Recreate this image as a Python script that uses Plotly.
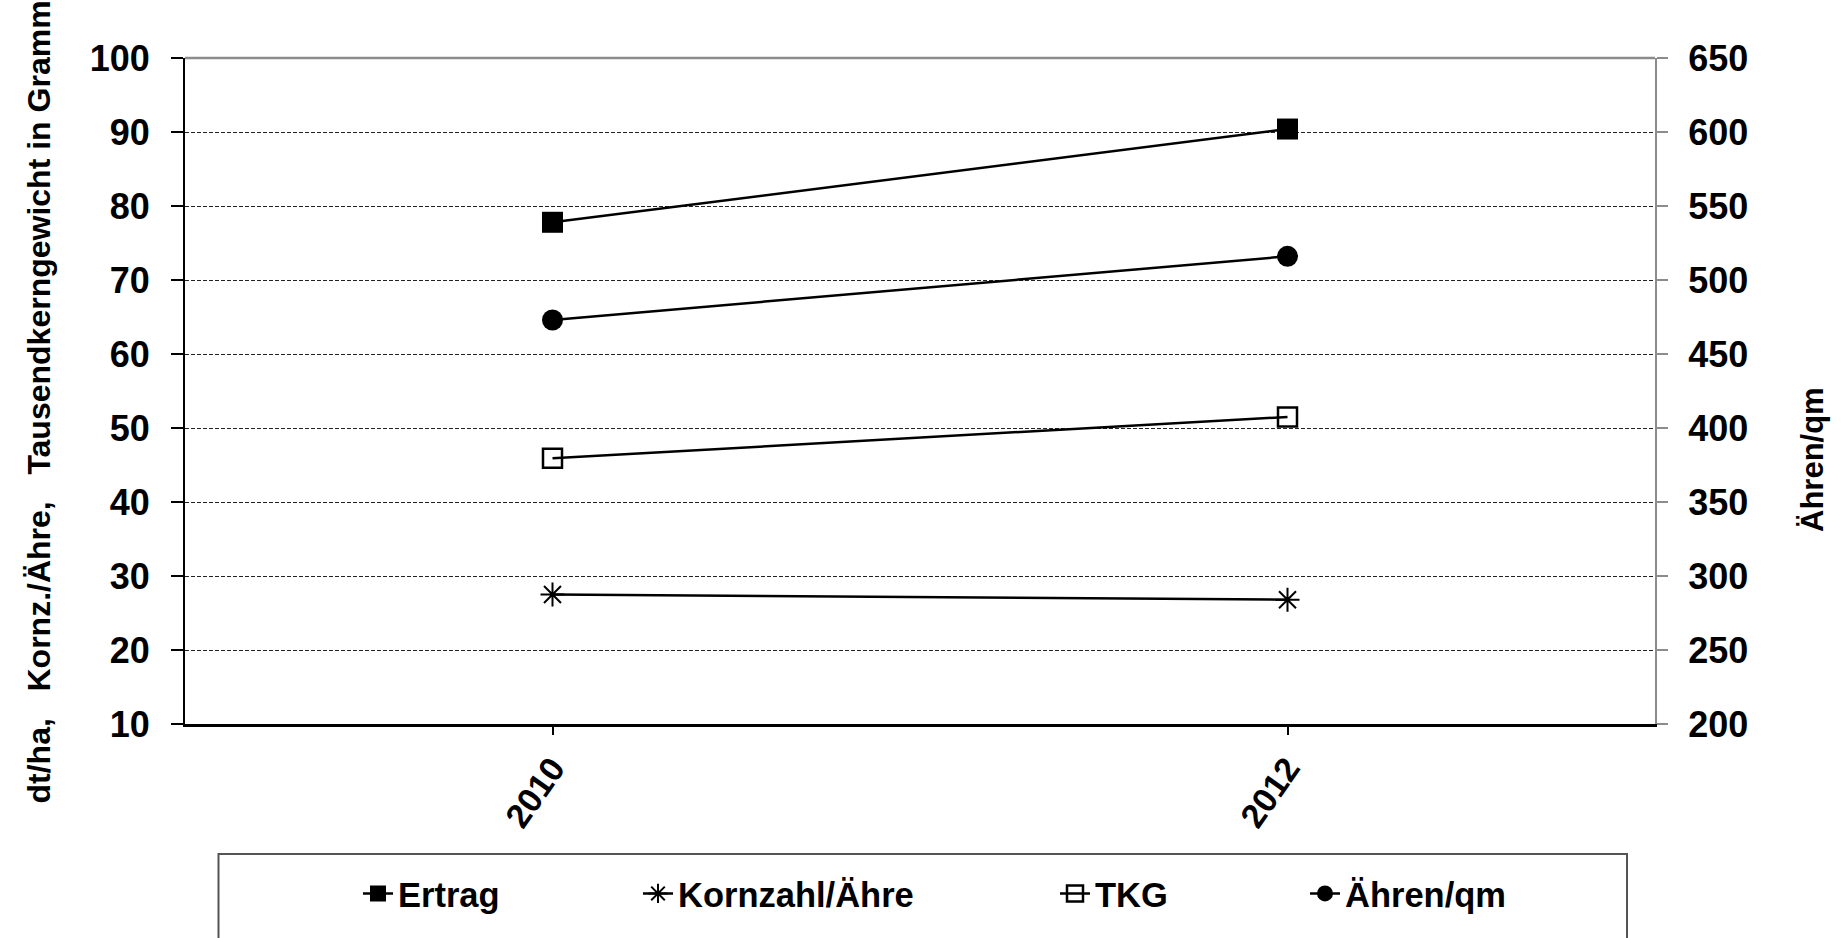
import plotly.graph_objects as go

# ---- data ----
years = ["2010", "2012"]
ertrag = [77.8, 90.4]          # dt/ha (left axis)
kornzahl = [27.5, 26.8]        # Kornzahl/Ähre (left axis)
tkg = [45.9, 51.5]             # TKG in g (left axis)
aehren = [473, 516]            # Ähren/qm (right axis)

left_ticks = [10, 20, 30, 40, 50, 60, 70, 80, 90, 100]
right_ticks = [200, 250, 300, 350, 400, 450, 500, 550, 600, 650]

left_title = "dt/ha,\u00a0\u00a0\u00a0Kornz./Ähre,\u00a0\u00a0\u00a0Tausendkerngewicht in Gramm"
right_title = "Ähren/qm"

FONT = "Liberation Sans, Arial, sans-serif"
W, H = 1842, 938
L, R, T, B = 185, 187, 58, 214
PW, PH = W - L - R, H - T - B


def px_x(x):
    return (x - L) / PW


def px_y(y):
    return (H - B - y) / PH


fig = go.Figure()

fig.add_trace(go.Scatter(
    x=years, y=ertrag, name="Ertrag", mode="lines+markers",
    line=dict(color="black", width=2.5),
    marker=dict(symbol="square", size=21, color="black", line=dict(width=0)),
    legend="legend"))
fig.add_trace(go.Scatter(
    x=years, y=kornzahl, name="Kornzahl/Ähre", mode="lines+markers",
    line=dict(color="black", width=2.5),
    marker=dict(symbol="asterisk-open", size=20, color="black", line=dict(width=2, color="black")),
    legend="legend2"))
fig.add_trace(go.Scatter(
    x=years, y=tkg, name="TKG", mode="lines+markers",
    line=dict(color="black", width=2.5),
    marker=dict(symbol="square-open", size=19, color="black", line=dict(width=2.5, color="black")),
    legend="legend3"))
fig.add_trace(go.Scatter(
    x=years, y=aehren, name="Ähren/qm", mode="lines+markers", yaxis="y2",
    line=dict(color="black", width=2.5),
    marker=dict(symbol="circle", size=21, color="black", line=dict(width=0)),
    legend="legend4"))

tick_font = dict(family=FONT, size=36, color="black", weight="bold")
xtick_font = dict(family=FONT, size=34, color="black", weight="bold")
leg_font = dict(family=FONT, size=34.5, color="black", weight="bold")
title_font = dict(family=FONT, size=32, color="black", weight="bold")

legend_common = dict(orientation="h", xanchor="left", yanchor="middle",
                     y=px_y(893.5), bgcolor="rgba(0,0,0,0)", borderwidth=0,
                     font=leg_font)

fig.update_layout(
    width=W, height=H,
    margin=dict(l=L, r=R, t=T, b=B, autoexpand=False),
    paper_bgcolor="white", plot_bgcolor="white",
    showlegend=True,
    xaxis=dict(
        type="category", range=[-0.5, 1.5],
        showline=True, linecolor="black", linewidth=2.5,
        ticks="outside", ticklen=8, tickcolor="black", tickwidth=1.5,
        tickangle=-55, tickfont=xtick_font, ticklabelstandoff=0,
        showgrid=False, zeroline=False, automargin=False),
    yaxis=dict(
        range=[10, 100], tickvals=left_ticks,
        showline=True, linecolor="black", linewidth=2,
        ticks="outside", ticklen=12, tickcolor="black", tickwidth=1.5,
        tickfont=tick_font, ticklabelstandoff=14,
        showgrid=True, gridcolor="#222222", gridwidth=1.3, griddash="4px,2px",
        zeroline=False, automargin=False),
    yaxis2=dict(
        range=[200, 650], tickvals=right_ticks, overlaying="y", side="right",
        showline=True, linecolor="#8c8c8c", linewidth=2,
        ticks="outside", ticklen=11, tickcolor="#8c8c8c", tickwidth=1.5,
        tickfont=tick_font, ticklabelstandoff=13,
        showgrid=False, zeroline=False, automargin=False),
    legend=dict(x=px_x(358), **legend_common),
    legend2=dict(x=px_x(638), **legend_common),
    legend3=dict(x=px_x(1055), **legend_common),
    legend4=dict(x=px_x(1305), **legend_common),
    annotations=[
        dict(text=left_title, xref="paper", yref="paper",
             x=px_x(38), y=px_y(806), xanchor="center", yanchor="bottom",
             textangle=-90, showarrow=False, font=title_font),
        dict(text=right_title, xref="paper", yref="paper",
             x=px_x(1812), y=px_y(460), xanchor="center", yanchor="middle",
             textangle=-90, showarrow=False,
             font=dict(family=FONT, size=31, color="black", weight="bold")),
    ],
    shapes=[
        # top border of the plot area
        dict(type="line", xref="paper", yref="paper", x0=0, x1=1, y0=1, y1=1,
             line=dict(color="#8c8c8c", width=2.5)),
        # legend frame
        dict(type="rect", xref="paper", yref="paper",
             x0=px_x(218.5), x1=px_x(1627), y0=px_y(854), y1=px_y(960),
             line=dict(color="#555555", width=2), fillcolor="rgba(0,0,0,0)"),
    ],
)

fig.write_html(
    "out.html",
    config={"displayModeBar": False},
    post_script="document.body.style.margin='0';document.body.style.overflow='hidden';",
)
